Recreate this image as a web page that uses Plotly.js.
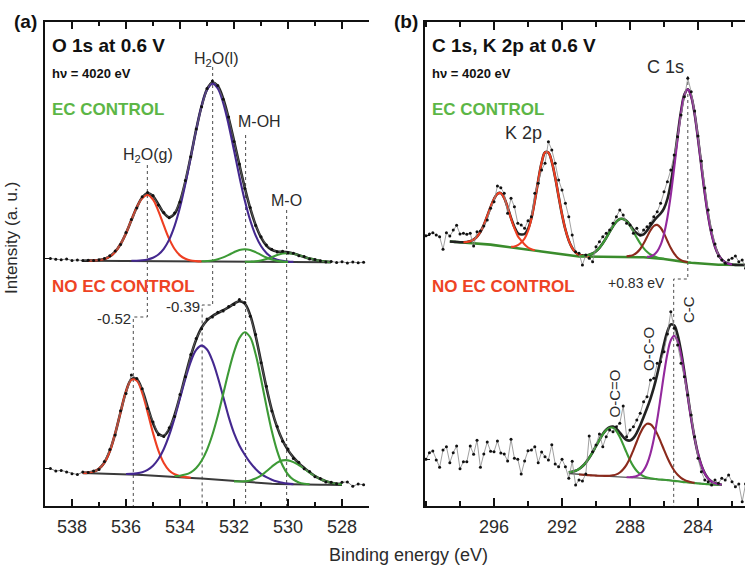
<!DOCTYPE html>
<html>
<head>
<meta charset="utf-8">
<script src="https://cdn.plot.ly/plotly-3.0.1.min.js"></script>
<style>
  html, body { margin: 0; padding: 0; overflow: hidden; background: #fff; }
  #chart { width: 750px; height: 565px; }
</style>
</head>
<body>
<div id="chart"></div>
<script>
// ---------- O 1s (panel a) ----------
// energy grid of the fitted curves (eV)
const o1sE = [537.6,537.4,537.2,537.0,536.8,536.6,536.4,536.2,536.0,535.8,535.6,535.4,535.2,535.0,534.8,534.6,534.4,534.2,534.0,533.8,533.6,533.4,533.2,533.0,532.8,532.6,532.4,532.2,532.0,531.8,531.6,531.4,531.2,531.0,530.8,530.6,530.4,530.2,530.0,529.8,529.6,529.4,529.2,529.0,528.8,528.6,528.4,528.2,528.0];
// energies of the measured points (eV)
const o1sDataE = [538.8,538.6,538.4,538.2,538.0,537.8,537.6,537.4,537.2,537.0,536.8,536.6,536.4,536.2,536.0,535.8,535.6,535.4,535.2,535.0,534.8,534.6,534.4,534.2,534.0,533.8,533.6,533.4,533.2,533.0,532.8,532.6,532.4,532.2,532.0,531.8,531.6,531.4,531.2,531.0,530.8,530.6,530.4,530.2,530.0,529.8,529.6,529.4,529.2,529.0,528.8,528.6,528.4,528.2,528.0,527.8,527.6,527.4,527.2];

// EC CONTROL: measured intensity (a.u.)
const o1sEC_data = [247.6,246.8,246.2,247.0,245.6,246.1,245.4,245.8,245.6,246.3,247.6,250.2,254.9,261.4,273.5,286.4,298.1,309.2,313.5,310.4,301.0,293.6,288.2,292.9,304.0,325.4,349.2,377.0,399.3,417.4,425.0,420.6,406.8,388.9,364.6,341.9,317.6,298.5,280.6,269.2,260.9,256.7,254.0,254.7,253.1,252.8,250.3,249.5,247.0,246.4,245.3,244.0,244.6,243.5,244.2,243.1,244.0,243.2,243.8];
// EC CONTROL: background (starts 537.6 eV) and fit components above it
const o1sEC_bg = [245.2,245.2,245.2,245.2,245.1,245.1,245.1,245.1,245.1,245.1,245.0,245.0,245.0,245.0,244.9,244.9,244.8,244.8,244.7,244.7,244.6,244.6,244.5,244.5,244.4,244.4,244.3,244.3,244.2,244.2,244.1,244.1,244.0,244.0,244.0,243.9,243.9,243.9,243.9,243.9,243.8,243.8,243.8,243.8,243.7,243.7,243.7];
const o1sEC_H2Og = [0.1,0.3,0.8,2.0,4.5,9.2,16.9,27.7,40.7,53.4,62.8,66.0,61.4,50.0,35.7,22.3,12.2,5.9,2.5,0.9,0.3,0.1];
const o1sEC_H2Ol = [0.1,0.3,0.7,1.6,3.3,6.6,12.3,21.6,35.3,54.0,77.5,104.3,131.5,155.2,171.7,178.0,173.2,158.8,137.0,111.4,85.2,61.4,41.6,26.6,16.0,9.0,4.8,2.4,1.2,0.5,0.2];
const o1sEC_MOH = [0.2,0.5,1.1,2.3,4.3,6.8,9.6,11.8,12.7,12.0,9.9,7.1,4.5,2.5,1.2,0.5,0.2];
const o1sEC_MO = [0.1,0.2,0.6,1.5,2.9,4.9,7.0,8.6,9.0,8.3,7.0,5.3,3.6,2.3,1.3,0.7,0.3];
// first energy of: background, H2O(g), H2O(l), M-OH, M-O
const o1sEC_start = [537.6, 537.4, 535.8, 533.2, 531.6];

// NO EC CONTROL
const o1sNo_data = [37.5,35.0,35.6,34.0,32.3,31.4,34.0,33.6,35.0,36.4,44.5,56.5,71.0,95.3,112.6,131.0,127.5,117.3,97.6,83.9,71.2,69.5,78.3,89.6,111.5,129.2,151.4,167.5,177.2,187.0,189.1,193.8,195.0,199.5,201.6,206.5,203.4,189.8,171.5,143.2,119.8,95.1,79.5,64.7,57.0,47.6,43.8,37.2,34.5,29.2,27.6,24.0,23.8,22.2,23.8,24.0,19.8,22.0,21.2];
const o1sNo_bg = [33.0,32.9,32.75,32.6,32.45,32.3,32.1,32.0,31.8,31.55,31.3,31.0,30.75,30.5,30.2,29.9,29.6,29.3,29.0,28.6,28.2,27.8,27.4,27.0,26.5,26.0,25.5,25.0,24.5,24.1,23.8,23.4,23.1,22.7,22.5,22.3,22.1,21.9,21.8,21.7,21.6,21.5,21.4,21.3,21.25,21.2,21.15,21.1,21.0];
const o1sNo_H2Og = [0.1,0.5,1.7,4.7,11.1,22.7,40.4,62.0,82.4,94.6,94.1,82.2,63.1,42.6,25.2,13.2,6.0,2.4,0.85,0.3,0.1];
const o1sNo_H2Ol = [0.2,0.6,1.3,2.7,5.3,9.7,16.8,27.1,41.2,58.8,78.7,98.7,116.3,128.4,133.0,129.5,118.8,102.8,83.8,64.4,48.4,36.5,27.5,20.0,14.0,9.5,6.3,4.0,2.4,1.3,0.6,0.2];
const o1sNo_MOH = [0.6,1.3,2.8,5.5,10.3,17.9,29.2,44.7,64.2,86.5,109.2,129.3,143.8,150.0,145.3,128.8,104.5,77.6,52.7,32.8,18.6,9.7,4.6,2.0,0.8,0.3];
const o1sNo_MO = [0.15,0.4,1.0,2.2,4.4,7.7,12.2,17.0,21.3,23.7,23.8,22.2,19.3,15.8,12.0,8.6,5.7,3.6,2.1,1.1,0.6];
const o1sNo_start = [537.6, 537.6, 536.0, 534.2, 532.0];

// peak markers: H2O(g), H2O(l), M-OH, M-O with EC control; H2O(g), H2O(l) without
const o1sPeaksEC = [535.21, 532.79, 531.57, 530.05];
const o1sPeaksNo = [535.73, 533.18];
const o1sTicks = [538, 536, 534, 532, 530, 528];

// ---------- C 1s / K 2p (panel b) ----------
const c1sE = [298.6,298.4,298.2,298.0,297.8,297.6,297.4,297.2,297.0,296.8,296.6,296.4,296.2,296.0,295.8,295.6,295.4,295.2,295.0,294.8,294.6,294.4,294.2,294.0,293.8,293.6,293.4,293.2,293.0,292.8,292.6,292.4,292.2,292.0,291.8,291.6,291.4,291.2,291.0,290.8,290.6,290.4,290.2,290.0,289.8,289.6,289.4,289.2,289.0,288.8,288.6,288.4,288.2,288.0,287.8,287.6,287.4,287.2,287.0,286.8,286.6,286.4,286.2,286.0,285.8,285.6,285.4,285.2,285.0,284.8,284.6,284.4,284.2,284.0,283.8,283.6,283.4,283.2,283.0,282.8,282.6,282.4,282.2,282.0,281.8,281.6,281.4,281.2];
const c1sDataE = [300.0,299.8,299.6,299.4,299.2,299.0,298.8,298.6,298.4,298.2,298.0,297.8,297.6,297.4,297.2,297.0,296.8,296.6,296.4,296.2,296.0,295.8,295.6,295.4,295.2,295.0,294.8,294.6,294.4,294.2,294.0,293.8,293.6,293.4,293.2,293.0,292.8,292.6,292.4,292.2,292.0,291.8,291.6,291.4,291.2,291.0,290.8,290.6,290.4,290.2,290.0,289.8,289.6,289.4,289.2,289.0,288.8,288.6,288.4,288.2,288.0,287.8,287.6,287.4,287.2,287.0,286.8,286.6,286.4,286.2,286.0,285.8,285.6,285.4,285.2,285.0,284.8,284.6,284.4,284.2,284.0,283.8,283.6,283.4,283.2,283.0,282.8,282.6,282.4,282.2,282.0,281.8,281.6,281.4,281.2];

// EC CONTROL
const c1sEC_data = [270.3,272.0,273.3,271.0,269.3,256.7,273.3,270.0,276.0,280.7,272.0,272.7,271.7,272.7,260.0,274.3,275.0,280.0,286.0,297.7,304.3,320.0,318.3,312.7,292.7,307.7,299.3,282.7,281.0,277.7,285.3,289.3,312.7,322.7,336.0,342.7,364.3,356.0,342.7,326.0,316.0,302.7,289.3,271.0,254.3,252.7,241.0,251.0,247.7,244.3,259.3,264.3,269.3,272.7,276.0,282.7,289.3,296.0,291.0,282.7,281.0,272.7,277.7,271.0,276.0,279.3,282.7,289.3,294.3,302.7,314.3,324.3,336.0,351.0,369.3,391.0,409.3,427.7,414.3,395.0,370.0,345.0,318.0,296.0,276.0,262.0,250.0,246.0,242.7,246.0,247.7,250.0,244.3,246.0,237.7];
const c1sEC_bg = [264.5,264.3,264.0,263.8,263.5,263.3,263.1,262.8,262.6,262.4,262.1,261.8,261.4,260.9,260.5,260.1,259.6,259.2,258.8,258.3,257.9,257.5,257.0,256.5,256.0,255.5,255.0,254.5,254.0,253.5,253.0,252.5,251.9,251.4,251.0,250.6,250.2,249.8,249.5,249.5,249.5,249.5,249.4,249.4,249.4,249.4,249.4,249.4,249.4,249.4,249.4,249.3,249.3,249.3,249.1,249.0,248.8,248.7,248.5,248.2,247.9,247.6,247.3,247.0,246.5,245.9,245.4,244.8,244.3,243.9,243.6,243.2,242.9,242.5,242.3,242.0,241.8,241.5,241.3,241.3,241.2,241.2,241.1,241.1,241.1,241.0,241.0,241.0];
const c1sEC_K2p12 = [0.3,0.7,1.6,3.5,6.7,11.8,19.0,28.0,37.6,46.1,51.7,52.8,48.4,39.5,28.7,19.5,12.0,8.0,4.5,2.0,0.8,0.3];
const c1sEC_K2p32 = [0.5,1.2,3.0,6.0,10.5,18.5,31.2,49.7,70.3,88.7,99.6,99.9,91.2,76.0,57.9,40.2,25.5,14.8,7.8,3.8,1.7,0.7,0.3,0.1];
const c1sEC_OCdO = [0.2,0.4,0.85,1.7,3.1,5.4,8.8,13.3,18.7,24.7,30.4,35.0,37.6,37.7,35.4,30.9,25.3,19.3,13.8,9.2,5.7,3.3,1.8,0.9,0.4,0.2];
const c1sEC_OCO = [0.3,0.85,2.0,4.4,8.2,13.8,20.6,27.3,32.1,33.5,31.0,25.4,18.5,12.0,6.9,3.5,1.6,0.6,0.2];
const c1sEC_CC = [0.6,1.4,3.3,7.0,13.8,25.1,42.0,64.9,92.7,122.2,148.6,166.9,173.0,166.5,149.5,125.1,97.8,71.3,48.4,30.7,18.2,10.0,5.2,2.5,1.1,0.4];
// first energy of: background, K 2p1/2, K 2p3/2, O-C=O, O-C-O, C-C
const c1sEC_start = [298.6, 297.8, 295.0, 291.0, 288.2, 287.0];

// NO EC CONTROL
const c1sNo_data = [46.7,53.3,55.0,46.0,38.7,56.0,59.3,43.3,53.3,60.0,37.3,44.3,44.3,60.0,51.7,65.7,38.7,52.0,64.0,54.7,54.3,65.0,53.0,52.0,45.0,66.7,47.7,46.7,32.0,45.0,55.3,56.0,59.3,43.3,54.0,49.3,46.0,61.3,42.0,39.3,46.7,39.3,27.7,44.7,21.0,26.0,25.0,32.0,70.0,54.3,61.0,72.0,59.3,69.3,76.0,74.3,79.3,82.7,100.0,69.3,76.0,79.3,86.0,92.7,104.3,109.3,126.0,127.7,142.7,144.3,154.3,172.0,194.3,177.7,161.0,142.7,129.3,111.0,91.0,69.3,47.7,34.3,26.0,24.3,21.0,26.0,22.7,27.7,26.0,31.0,24.3,19.3,22.0,4.3,22.0];
const c1sNo_bg = [32.5,32.2,31.8,31.5,31.3,31.0,30.8,30.5,30.3,30.1,30.0,29.8,29.6,29.5,29.3,29.1,28.9,28.7,28.5,28.3,28.1,27.9,27.7,27.5,27.3,27.0,26.8,26.5,26.3,25.9,25.5,25.1,24.7,24.3,23.9,23.6,23.2,22.9,22.5,22.3,22.0,21.8,21.5,21.3,21.1,21.0];
const c1sNo_OCdO = [1.1,2.0,3.4,5.5,8.4,12.4,17.4,23.2,29.6,36.0,41.7,46.1,48.6,48.7,45.7,39.9,32.4,24.6,17.3,11.3,6.9,3.9,2.1,1.0,0.5,0.2,0,0,0,0,0,0,0,0,0,0,0,0,0,0,0,0,0,0,0,0];
const c1sNo_OCO = [0,0,0,0,0,0.1,0.1,0.2,0.3,0.6,1.2,2.3,4.4,7.8,12.7,19.4,27.6,36.4,44.8,51.3,54.7,54.4,51.1,45.3,37.9,29.9,22.3,15.7,10.4,6.5,3.9,2.2,1.1,0.5,0.2];
const c1sNo_CC = [0,0.3,0.8,1.9,4.0,7.9,14.5,25.0,40.0,59.5,82.3,105.7,126.3,140.3,145.0,140.0,126.8,107.6,85.8,64.1,45.0,29.6,18.3,10.6,5.7,2.9,1.4,0.6,0.3];
const c1sNo_start = [291.6, 291.6, 291.0, 288.2];

// C-C peak with and without EC control
const c1sPeakEC = 284.60;
const c1sPeakNo = 285.43;
const c1sTicks = [296, 292, 288, 284];

// ---------- helpers ----------
const FONT = 'Liberation Sans, Arial, Helvetica, sans-serif';
const COL = {
  red: '#ee3f22', violet: '#44288f', green: '#3d9a36', purple: '#93299d',
  brown: '#8b2a1c', bgGreen: '#3a8c2c', env: '#222222', bgGray: '#3a3a3a',
  txtGreen: '#5cb646', txtRed: '#ee4324', guide: '#4a4a4a'
};

// place a list of values on a grid, starting at a given energy
function onGrid(grid, start, vals) {
  const i0 = grid.findIndex(e => Math.abs(e - start) < 1e-6);
  return grid.map((e, i) => (i >= i0 && i < i0 + vals.length) ? vals[i - i0] : null);
}

const traces = [];
function addLine(x, y, color, width, xa, ya, shape) {
  traces.push({ type: 'scatter', mode: 'lines', x, y, xaxis: xa, yaxis: ya,
    line: { color, width, shape: shape || 'spline', smoothing: 1 },
    hoverinfo: 'skip', connectgaps: false });
}
function addGuide(x, y, xa, ya) {
  traces.push({ type: 'scatter', mode: 'lines', x, y, xaxis: xa, yaxis: ya,
    line: { color: COL.guide, width: 1, dash: 'dot' }, hoverinfo: 'skip' });
}
function addData(x, y, xa, ya, lineColor) {
  traces.push({ type: 'scatter', mode: 'lines+markers', x, y, xaxis: xa, yaxis: ya,
    line: { color: lineColor, width: 0.8 },
    marker: { color: '#111', size: 3 }, hoverinfo: 'skip' });
}

// one fitted spectrum: background, envelope, components (drawn over the background)
function spectrum(grid, starts, bgVals, comps, colors, bgColor, bgWidth, xa, ya) {
  const bg = onGrid(grid, starts[0], bgVals);
  const parts = comps.map((c, k) => onGrid(grid, starts[k + 1], c));
  const env = grid.map((e, i) => bg[i] == null ? null :
    bg[i] + parts.reduce((s, p) => s + (p[i] == null ? 0 : p[i]), 0));
  addLine(grid, bg, bgColor, bgWidth, xa, ya, 'linear');
  addLine(grid, env, COL.env, 2.6, xa, ya);
  parts.forEach((p, k) => {
    const y = p.map((v, i) => (v == null || bg[i] == null) ? null : bg[i] + v);
    addLine(grid, y, colors[k], 2.1, xa, ya);
  });
}

// ---------- panel a ----------
addGuide([o1sPeaksEC[0], o1sPeaksEC[0], o1sPeaksNo[0], o1sPeaksNo[0]], [341, 189, 189, 0], 'x', 'y');
addGuide([o1sPeaksEC[1], o1sPeaksEC[1], o1sPeaksNo[1], o1sPeaksNo[1]], [439, 201, 201, 0], 'x', 'y');
addGuide([o1sPeaksEC[2], o1sPeaksEC[2]], [371, 0], 'x', 'y');
addGuide([o1sPeaksEC[3], o1sPeaksEC[3]], [296, 0], 'x', 'y');

const o1sColors = [COL.red, COL.violet, COL.green, COL.green];
spectrum(o1sE, o1sEC_start, o1sEC_bg, [o1sEC_H2Og, o1sEC_H2Ol, o1sEC_MOH, o1sEC_MO], o1sColors, COL.bgGray, 2, 'x', 'y');
spectrum(o1sE, o1sNo_start, o1sNo_bg, [o1sNo_H2Og, o1sNo_H2Ol, o1sNo_MOH, o1sNo_MO], o1sColors, COL.bgGray, 2, 'x', 'y');
addData(o1sDataE, o1sEC_data, 'x', 'y', '#666');
addData(o1sDataE, o1sNo_data, 'x', 'y', '#666');

// ---------- panel b ----------
addGuide([c1sPeakEC, c1sPeakEC, c1sPeakNo, c1sPeakNo], [430, 227, 227, 0], 'x2', 'y2');
spectrum(c1sE, c1sEC_start, c1sEC_bg, [c1sEC_K2p12, c1sEC_K2p32, c1sEC_OCdO, c1sEC_OCO, c1sEC_CC],
  [COL.red, COL.red, COL.green, COL.brown, COL.purple], COL.bgGreen, 2.6, 'x2', 'y2');
spectrum(c1sE, c1sNo_start, c1sNo_bg, [c1sNo_OCdO, c1sNo_OCO, c1sNo_CC],
  [COL.green, COL.brown, COL.purple], '#555', 1.4, 'x2', 'y2');
addData(c1sDataE, c1sEC_data, 'x2', 'y2', '#888');
addData(c1sDataE, c1sNo_data, 'x2', 'y2', '#888');

// ---------- text ----------
const PX = px => (px - 45) / 704;
const PY = py => (506 - py) / 484;
const annotations = [];
function label(text, px, py, size, opt) {
  annotations.push(Object.assign({
    text, xref: 'paper', yref: 'paper', x: PX(px), y: PY(py), showarrow: false,
    xanchor: 'center', yanchor: 'middle', font: { family: FONT, size, color: '#2b2b2b' }
  }, opt || {}));
}
const dark = size => ({ family: FONT, size, color: '#111' });

// panel a
label('<b>(a)</b>', 12, 21, 19, { xanchor: 'left', font: dark(19) });
label('<b>O 1s at 0.6 V</b>', 50, 45, 19, { xanchor: 'left', font: dark(19) });
label('<b>h\u03bd = 4020 eV</b>', 50, 74, 13, { xanchor: 'left', font: dark(13) });
label('<b>EC CONTROL</b>', 50, 110, 17, { xanchor: 'left', font: { family: FONT, size: 17, color: COL.txtGreen } });
label('<b>NO EC CONTROL</b>', 50, 286, 17, { xanchor: 'left', font: { family: FONT, size: 17, color: COL.txtRed } });
label('H<sub>2</sub>O(l)', 216, 59, 16);
label('M-OH', 259, 122, 16);
label('H<sub>2</sub>O(g)', 148, 155, 16);
label('M-O', 286, 200, 16);
label('-' + (o1sPeaksNo[0] - o1sPeaksEC[0]).toFixed(2), 133, 318, 15, { xanchor: 'right' });
label('-' + (o1sPeaksNo[1] - o1sPeaksEC[1]).toFixed(2), 202, 306, 15, { xanchor: 'right' });
label('Intensity (a. u.)', 12, 238, 17, { textangle: -90 });

// panel b
label('<b>(b)</b>', 392, 21, 19, { xanchor: 'left', font: dark(19) });
label('<b>C 1s, K 2p at 0.6 V</b>', 430, 45, 19, { xanchor: 'left', font: dark(19) });
label('<b>h\u03bd = 4020 eV</b>', 430, 74, 13, { xanchor: 'left', font: dark(13) });
label('<b>EC CONTROL</b>', 430, 110, 17, { xanchor: 'left', font: { family: FONT, size: 17, color: COL.txtGreen } });
label('<b>NO EC CONTROL</b>', 430, 286, 17, { xanchor: 'left', font: { family: FONT, size: 17, color: COL.txtRed } });
label('K 2p', 523, 133, 18);
label('C 1s', 665, 67, 18);
label('+' + (c1sPeakNo - c1sPeakEC).toFixed(2) + ' eV', 667, 283, 14, { xanchor: 'right' });
label('C-C', 688.5, 309.5, 15, { textangle: -90 });
label('O-C-O', 648.5, 349.5, 15, { textangle: -90 });
label('O-C=O', 613.5, 394, 15, { textangle: -90 });

label('Binding energy (eV)', 408, 555, 18);

// ---------- axes ----------
const axisLine = { showline: true, linewidth: 2, linecolor: '#111', showgrid: false, zeroline: false };
const xCommon = Object.assign({}, axisLine, {
  ticks: 'inside', tickwidth: 1.6, tickcolor: '#111', mirror: 'ticks',
  tickfont: { family: FONT, size: 18, color: '#2b2b2b' }, ticklabelstandoff: 3
});
const yCommon = Object.assign({}, axisLine, {
  range: [0, 484], ticks: 'inside', ticklen: 5, tickwidth: 1.5, tickcolor: '#111',
  showticklabels: false, fixedrange: true
});
const last = a => a[a.length - 1];

const layout = {
  width: 750, height: 565,
  margin: { l: 45, r: 1, t: 22, b: 59 },
  paper_bgcolor: '#fff', plot_bgcolor: '#fff',
  showlegend: false,
  font: { family: FONT, color: '#2b2b2b' },
  xaxis: Object.assign({}, xCommon, {
    domain: [0, 324 / 704], range: [539, 527], anchor: 'y',
    tickmode: 'array', tickvals: o1sTicks, ticklen: 7,
    minor: { dtick: 1, tick0: 527, ticks: 'inside', ticklen: 4, tickwidth: 1.4, tickcolor: '#111' }
  }),
  yaxis: Object.assign({}, yCommon, {
    domain: [0, 1], anchor: 'x', tickvals: [o1sNo_data[0], o1sEC_data[0]]
  }),
  yaxis3: Object.assign({}, yCommon, {
    overlaying: 'y', side: 'right', anchor: 'x', tickvals: [last(o1sNo_data), last(o1sEC_data)]
  }),
  xaxis2: Object.assign({}, xCommon, {
    domain: [380 / 704, 1], range: [300.06, 281.0], anchor: 'y2',
    tickmode: 'array', tickvals: c1sTicks, ticklen: 8,
    minor: { dtick: 2, tick0: 282, ticks: 'inside', ticklen: 5, tickwidth: 1.4, tickcolor: '#111' }
  }),
  yaxis2: Object.assign({}, yCommon, {
    domain: [0, 1], anchor: 'x2', tickvals: [c1sNo_data[0], c1sEC_data[0]]
  }),
  annotations
};

Plotly.newPlot('chart', traces, layout, { staticPlot: true, displayModeBar: false });
</script>
</body>
</html>
